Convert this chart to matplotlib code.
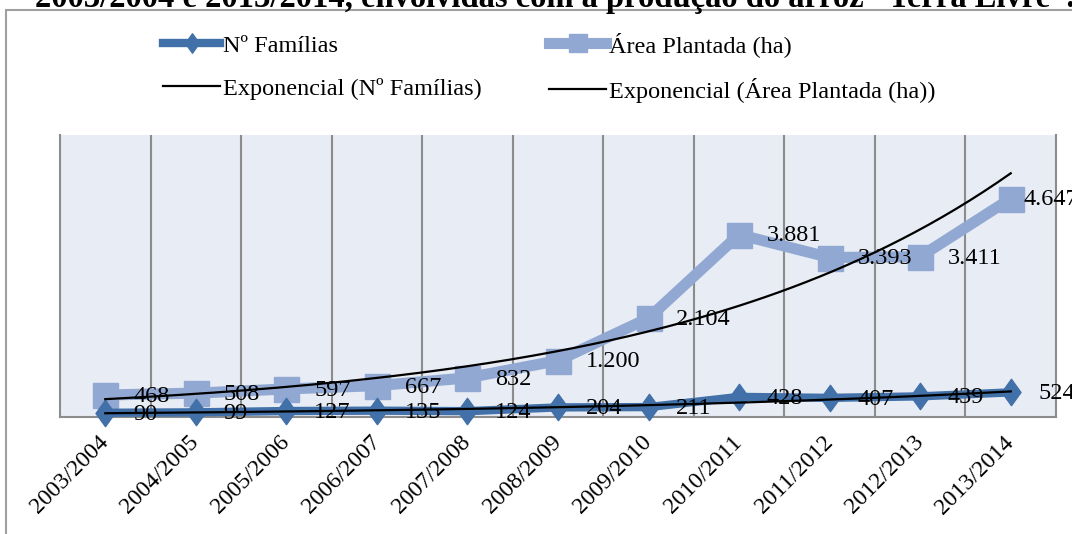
import numpy as np
import matplotlib
matplotlib.use("Agg")
import matplotlib.pyplot as plt
from matplotlib.lines import Line2D
from matplotlib.path import Path
from matplotlib.patches import Rectangle

# ---- data ----
seasons = ["2003/2004", "2004/2005", "2005/2006", "2006/2007", "2007/2008",
           "2008/2009", "2009/2010", "2010/2011", "2011/2012", "2012/2013", "2013/2014"]
familias = [90, 99, 127, 135, 124, 204, 211, 428, 407, 439, 524]
area_ha = [468, 508, 597, 667, 832, 1200, 2104, 3881, 3393, 3411, 4647]
label_fam = "Nº Famílias"
label_area = "Área Plantada (ha)"
title = "2003/2004 e 2013/2014, envolvidas com a produção do arroz \u201cTerra Livre\u201d."

C_FAM = "#4270A8"
C_AREA = "#91A9D2"
BG = "#E8ECF4"
GRID = "#8C8C8C"
FONT = "Liberation Serif"
FS = 17.5

plt.rcParams["font.family"] = [FONT, "DejaVu Serif"]

W, H, DPI = 1072, 534, 100
fig = plt.figure(figsize=(W / DPI, H / DPI), dpi=DPI)

# chart frame (extends beyond right/bottom edges)
fig.patches.append(Rectangle((6 / W, -0.1), 1.2, 1 - 10 / H + 0.1, transform=fig.transFigure,
                             fill=False, edgecolor="#A0A0A0", lw=1.5))

ax = fig.add_axes([60 / W, 1 - 417 / H, (1056 - 60) / W, (417 - 135) / H])
ax.set_facecolor(BG)

x = np.arange(len(seasons))

diamond = Path([(0, 1), (0.72, 0), (0, -1), (-0.72, 0), (0, 1)],
               [Path.MOVETO, Path.LINETO, Path.LINETO, Path.LINETO, Path.CLOSEPOLY])

ax.plot(x, area_ha, color=C_AREA, lw=8, marker="s", markersize=18,
        solid_joinstyle="miter", zorder=3, clip_on=False)
ax.plot(x, familias, color=C_FAM, lw=6, marker=diamond, markersize=19,
        solid_joinstyle="miter", zorder=3, clip_on=False)

# exponential trendlines (least squares on log values, as Excel does)
xt = np.linspace(0, len(x) - 1, 200)
for vals in (familias, area_ha):
    b, a = np.polyfit(x + 1, np.log(vals), 1)
    ax.plot(xt, np.exp(a) * np.exp(b * (xt + 1)), color="black", lw=1.6, zorder=4, clip_on=False)


def fmt(v):
    return f"{v:,}".replace(",", ".")


for xi, v in zip(x, familias):
    ax.annotate(fmt(v), (xi, v), xytext=(20, -1), textcoords="offset points",
                ha="left", va="center", fontsize=FS, zorder=6, annotation_clip=False)
for i, (xi, v) in enumerate(zip(x, area_ha)):
    dx = 9 if i == len(x) - 1 else 20
    ax.annotate(fmt(v), (xi, v), xytext=(dx, -1), textcoords="offset points",
                ha="left", va="center", fontsize=FS, zorder=6, annotation_clip=False)

ax.set_xlim(-0.5, len(x) - 0.5)
ax.set_ylim(0, 6000)
ax.set_yticks([])
ax.set_xticks(x)
ax.set_xticklabels(seasons, rotation=45, ha="right", va="center", rotation_mode="anchor",
                   fontsize=17)
ax.tick_params(axis="x", length=0, pad=16)
for xb in np.arange(0.5, len(x) - 0.5, 1):
    ax.axvline(xb, color=GRID, lw=1.5, zorder=1)
for s in ("left", "right", "bottom"):
    ax.spines[s].set_color(GRID)
    ax.spines[s].set_linewidth(1.5)
ax.spines["top"].set_visible(False)

handles = [
    Line2D([], [], color=C_FAM, lw=6, marker=diamond, markersize=14),
    Line2D([], [], color="black", lw=1.6),
    Line2D([], [], color=C_AREA, lw=8, marker="s", markersize=13),
    Line2D([], [], color="black", lw=1.6),
]
labels = [label_fam, "Exponencial (" + label_fam + ")",
          label_area, "Exponencial (" + label_area + ")"]
fig.legend(handles, labels, ncol=2, loc="upper left", bbox_to_anchor=(163 / W, 1 - 32 / H),
           frameon=False, fontsize=FS, handlelength=2.35, handletextpad=0.1,
           columnspacing=2.8, labelspacing=0.85, borderpad=0, borderaxespad=0)

fig.text(35 / W, 1 - 7 / H, title, ha="left", va="baseline", fontsize=23.5, fontweight="bold")

fig.savefig("out.png", dpi=DPI)
